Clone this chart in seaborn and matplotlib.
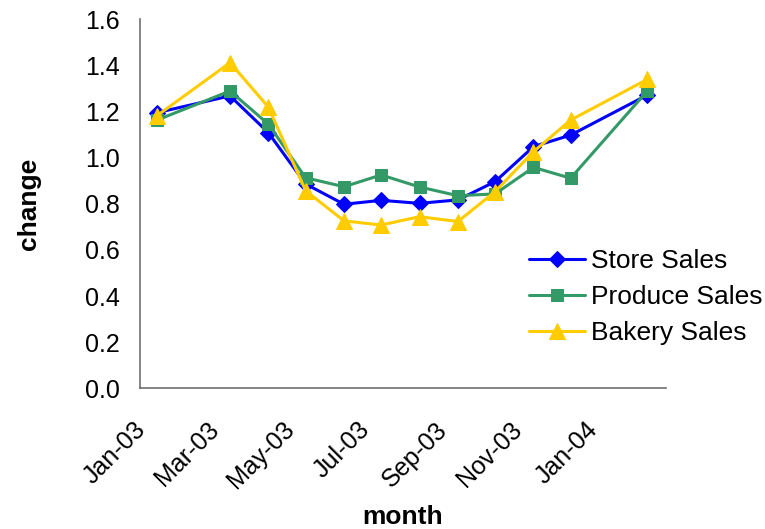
import matplotlib
matplotlib.use("Agg")
import matplotlib.pyplot as plt
import matplotlib.transforms as mtransforms
import seaborn as sns
import pandas as pd

# Monthly sales change ratios (mid-month readings)
months = ["2003-01-15", "2003-03-15", "2003-04-15", "2003-05-15", "2003-06-15",
          "2003-07-15", "2003-08-15", "2003-09-15", "2003-10-15", "2003-11-15",
          "2003-12-15", "2004-02-15"]
store_sales = [1.195, 1.268, 1.108, 0.886, 0.798, 0.815, 0.802, 0.817, 0.896,
               1.048, 1.098, 1.272]
produce_sales = [1.163, 1.289, 1.145, 0.913, 0.874, 0.925, 0.873, 0.835, 0.843,
                 0.958, 0.911, 1.290]
bakery_sales = [1.182, 1.412, 1.219, 0.857, 0.726, 0.708, 0.744, 0.723, 0.853,
                1.026, 1.163, 1.340]

series_names = ["Store Sales", "Produce Sales", "Bakery Sales"]
tick_dates = ["2003-01-01", "2003-03-01", "2003-05-01", "2003-07-01",
              "2003-09-01", "2003-11-01", "2004-01-01", "2004-03-01"]
tick_labels = ["Jan-03", "Mar-03", "May-03", "Jul-03", "Sep-03", "Nov-03",
               "Jan-04", ""]
y_ticks = [0.0, 0.2, 0.4, 0.6, 0.8, 1.0, 1.2, 1.4, 1.6]

df = pd.DataFrame({
    "month": pd.to_datetime(months),
    "Store Sales": store_sales,
    "Produce Sales": produce_sales,
    "Bakery Sales": bakery_sales,
})
long_df = df.melt(id_vars="month", var_name="series", value_name="change")

sns.set_theme(style="white")
plt.rcParams["font.family"] = ["Liberation Sans", "DejaVu Sans"]
plt.rcParams["text.color"] = "black"
plt.rcParams["axes.labelcolor"] = "black"

fig = plt.figure(figsize=(7.65, 5.29), dpi=100)
ax = fig.add_axes([0.1825, 0.266, 0.6881, 0.6975])

palette = {"Store Sales": "#0000FF", "Produce Sales": "#339966",
           "Bakery Sales": "#FFCC00"}
markers = {"Store Sales": "D", "Produce Sales": "s", "Bakery Sales": "^"}
sizes_map = {"Store Sales": 8, "Produce Sales": 9, "Bakery Sales": 12}

for name in series_names:
    sub = long_df[long_df["series"] == name]
    sns.lineplot(data=sub, x="month", y="change", ax=ax, color=palette[name],
                 marker=markers[name], markersize=sizes_map[name],
                 markeredgecolor=palette[name], linewidth=2.2, label=name)

ax.set_xlim(pd.Timestamp("2003-01-01"), pd.Timestamp("2004-03-01"))
ax.set_ylim(0, 1.6)

for side in ["top", "right"]:
    ax.spines[side].set_visible(False)
for side in ["left", "bottom"]:
    ax.spines[side].set_color("#707070")
    ax.spines[side].set_linewidth(1.2)
ax.tick_params(axis="both", direction="out", length=6, width=1.2,
               color="#707070")
ax.tick_params(axis="y", pad=8)
ax.tick_params(axis="x", pad=15)

ax.set_xticks(pd.to_datetime(tick_dates))
ax.set_xticklabels(tick_labels, rotation=45, ha="right", va="top",
                   rotation_mode="anchor", fontsize=18, color="black")
ax.set_yticks(y_ticks)
ax.set_yticklabels([f"{v:.1f}" for v in y_ticks], fontsize=18, color="black")

# nudge the slanted month labels so they end just under their ticks
shift = mtransforms.ScaledTranslation(-6 / 100, 0, fig.dpi_scale_trans)
for lbl in ax.xaxis.get_majorticklabels():
    lbl.set_transform(lbl.get_transform() + shift)

ax.set_xlabel("month", fontsize=19, fontweight="bold", labelpad=8)
ax.set_ylabel("change", fontsize=19, fontweight="bold", labelpad=32)

ax.legend(loc="center left", bbox_to_anchor=(0.678, 0.438),
          bbox_transform=fig.transFigure, frameon=False, fontsize=19,
          handlelength=2.1, handletextpad=0.25, labelspacing=0.46,
          borderaxespad=0)

fig.savefig("out.png", dpi=100)
